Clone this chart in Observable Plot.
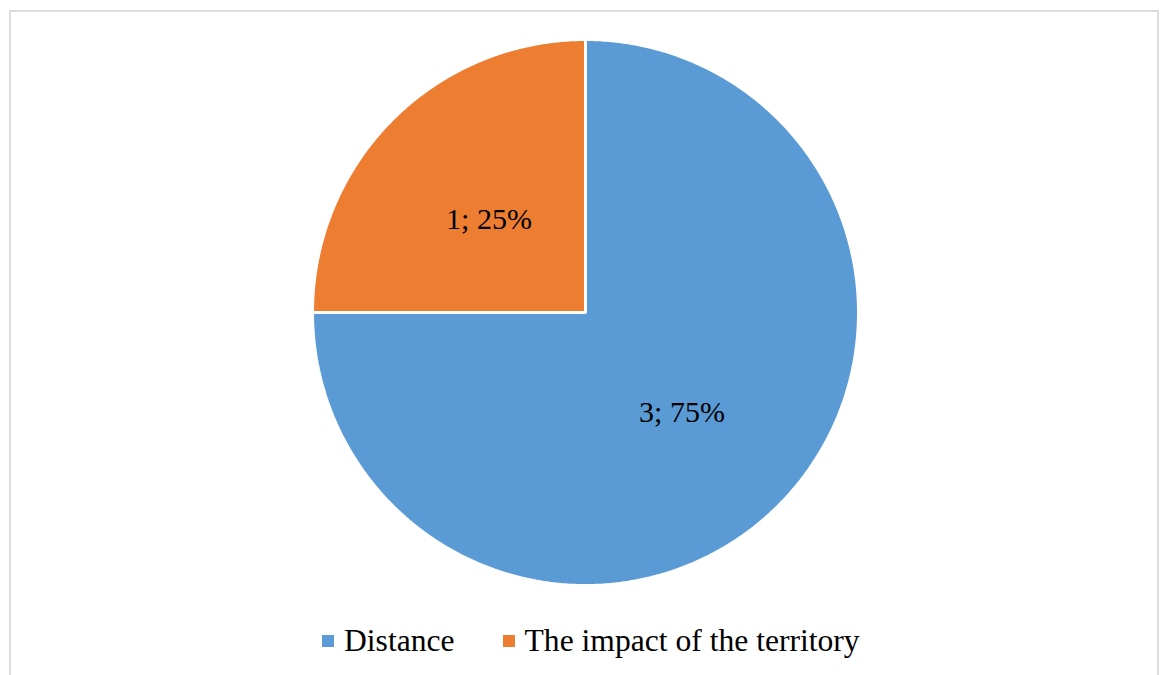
<!DOCTYPE html>
<html>
<head>
<meta charset="utf-8">
<script src="https://cdn.jsdelivr.net/npm/d3@7"></script>
<script src="https://cdn.jsdelivr.net/npm/@observablehq/plot@0.6"></script>
<style>
  html, body { margin: 0; padding: 0; background: #fff; width: 1165px; height: 675px; overflow: hidden; }
  #frame { position: absolute; left: 9px; top: 10px; width: 1150px; height: 700px; border: 2px solid #dcdcdc; box-sizing: border-box; }
  #chart { position: absolute; left: 0; top: 0; }
  #legend { position: absolute; left: 322px; top: 623px; display: flex; align-items: center;
            font-family: "Liberation Serif", "Times New Roman", serif; font-size: 31.6px; color: #000; white-space: nowrap; }
  .item { display: flex; align-items: center; }
  .sw { width: 12px; height: 12px; margin-right: 10px; }
</style>
</head>
<body>
<div id="frame"></div>
<div id="chart"></div>
<div id="legend"></div>
<script>
const categories = ["Distance", "The impact of the territory"];
const values = [3, 1];
const colors = ["#5B9BD5", "#ED7D31"];

const total = d3.sum(values);
const arcs = d3.pie().sort(null)(values);
const slices = arcs.map((a, i) => {
  const ring = [[0, 0]];
  const n = Math.max(2, Math.ceil((a.endAngle - a.startAngle) / (Math.PI / 360)));
  for (let k = 0; k <= n; k++) {
    const t = a.startAngle + (a.endAngle - a.startAngle) * k / n;
    ring.push([Math.sin(t), Math.cos(t)]);
  }
  ring.push([0, 0]);
  const mid = (a.startAngle + a.endAngle) / 2;
  return {
    type: "Feature",
    properties: {
      category: categories[i],
      value: values[i],
      label: `${values[i]}; ${Math.round(values[i] / total * 100)}%`,
      lx: 0.5 * Math.sin(mid),
      ly: 0.5 * Math.cos(mid)
    },
    geometry: { type: "Polygon", coordinates: [ring] }
  };
});

const chart = Plot.plot({
  width: 1165,
  height: 600,
  marginLeft: 312,
  marginRight: 307,
  marginTop: 39,
  marginBottom: 15,
  projection: { type: "reflect-y", domain: { type: "MultiPoint", coordinates: [[-1, -1], [1, 1]] } },
  color: { domain: categories, range: colors },
  style: { fontFamily: "'Liberation Serif', 'Times New Roman', serif", background: "transparent" },
  marks: [
    Plot.geo(slices, { fill: d => d.properties.category, stroke: "white", strokeWidth: 3, strokeLinejoin: "miter" }),
    Plot.text(slices, {
      x: d => d.properties.lx,
      y: d => d.properties.ly,
      text: d => d.properties.label,
      fontSize: 30,
      dy: 3,
      fill: "black",
      fontFamily: "'Liberation Serif', 'Times New Roman', serif"
    })
  ]
});
document.getElementById("chart").appendChild(chart);

const legend = document.getElementById("legend");
categories.forEach((c, i) => {
  const item = document.createElement("div");
  item.className = "item";
  if (i > 0) item.style.marginLeft = "48px";
  const sw = document.createElement("div");
  sw.className = "sw";
  sw.style.background = colors[i];
  const lab = document.createElement("span");
  lab.textContent = c;
  item.appendChild(sw);
  item.appendChild(lab);
  legend.appendChild(item);
});
</script>
</body>
</html>
